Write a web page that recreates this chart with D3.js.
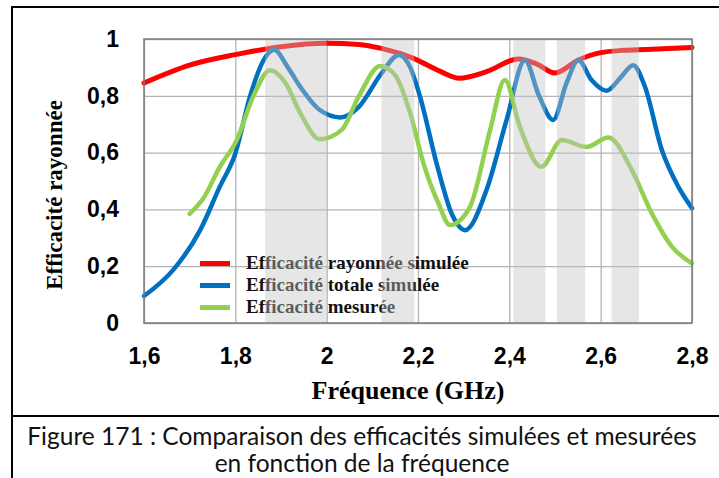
<!DOCTYPE html>
<html lang="fr">
<head>
<meta charset="utf-8">
<title>Efficacité rayonnée</title>
<script src="https://cdn.jsdelivr.net/npm/d3@7"></script>
<style>
  body { margin: 0; background: #fff; }
</style>
</head>
<body>
<script>

// values
var freqRad = [1.6, 1.7, 1.8, 1.9, 2.0, 2.07, 2.12, 2.19, 2.25, 2.29, 2.35, 2.42, 2.46, 2.5, 2.55, 2.6, 2.65, 2.7, 2.8];
var effRad  = [0.845, 0.908, 0.945, 0.973, 0.985, 0.981, 0.967, 0.932, 0.885, 0.862, 0.885, 0.93, 0.912, 0.88, 0.925, 0.952, 0.96, 0.963, 0.97];

var freqTot = [1.6, 1.664, 1.723, 1.766, 1.8, 1.832, 1.86, 1.885, 1.915, 1.942, 1.985, 2.03, 2.07, 2.12, 2.158, 2.183, 2.204, 2.241, 2.275, 2.303, 2.35, 2.394, 2.434, 2.465, 2.496, 2.525, 2.551, 2.58, 2.613, 2.645, 2.671, 2.697, 2.734, 2.77, 2.8];
var effTot  = [0.095, 0.187, 0.327, 0.48, 0.597, 0.797, 0.92, 0.962, 0.9, 0.832, 0.75, 0.724, 0.76, 0.879, 0.944, 0.9, 0.8, 0.56, 0.38, 0.327, 0.468, 0.715, 0.925, 0.8, 0.715, 0.844, 0.925, 0.856, 0.818, 0.867, 0.908, 0.832, 0.609, 0.48, 0.404];

var freqMes = [1.7, 1.73, 1.766, 1.803, 1.839, 1.876, 1.91, 1.942, 1.985, 2.033, 2.07, 2.117, 2.15, 2.183, 2.212, 2.245, 2.27, 2.314, 2.358, 2.39, 2.423, 2.47, 2.515, 2.569, 2.617, 2.668, 2.712, 2.756, 2.8];
var effMes  = [0.384, 0.439, 0.55, 0.644, 0.797, 0.89, 0.845, 0.74, 0.647, 0.68, 0.797, 0.905, 0.873, 0.738, 0.562, 0.42, 0.345, 0.41, 0.68, 0.856, 0.691, 0.55, 0.644, 0.62, 0.653, 0.539, 0.386, 0.269, 0.21];

var bandStart = [1.865, 2.12, 2.409, 2.504, 2.624];
var bandEnd   = [2.0, 2.192, 2.479, 2.566, 2.684];

var xTicks = [1.6, 1.8, 2.0, 2.2, 2.4, 2.6, 2.8];
var yTicks = [0, 0.2, 0.4, 0.6, 0.8, 1];

var seriesNames = ["Efficacité rayonnée simulée", "Efficacité totale simulée", "Efficacité mesurée"];
var seriesColors = ["#ff0000", "#0070c0", "#92d050"];

var W = 719, H = 478;
var plot = {left: 144, right: 692, top: 39, bottom: 323};

var x = d3.scaleLinear().domain([1.6, 2.8]).range([plot.left, plot.right]);
var y = d3.scaleLinear().domain([0, 1]).range([plot.bottom, plot.top]);

var svg = d3.select("body").append("svg")
	.attr("width", W)
	.attr("height", H)
	.style("display", "block");

function comma(d) { return String(d).replace(".", ","); }

// grid + tick labels
var xAxis = d3.axisBottom(x).tickValues(xTicks).tickFormat(comma)
	.tickSizeInner(-(plot.bottom - plot.top)).tickSizeOuter(0).tickPadding(25);
var yAxis = d3.axisLeft(y).tickValues(yTicks).tickFormat(comma)
	.tickSizeInner(-(plot.right - plot.left)).tickSizeOuter(0).tickPadding(25);

var gx = svg.append("g").attr("transform", "translate(0," + plot.bottom + ")").call(xAxis);
var gy = svg.append("g").attr("transform", "translate(" + plot.left + ",0)").call(yAxis);

[gx, gy].forEach(function(g) {
	g.select(".domain").remove();
	g.selectAll(".tick line").attr("stroke", "#b4b4b4").attr("stroke-width", 1.3);
	g.selectAll(".tick text")
		.attr("fill", "#000")
		.style("font-family", "'Liberation Sans', Arial, sans-serif")
		.style("font-weight", "bold")
		.style("font-size", "23px");
});

// curves
var line = d3.line()
	.x(function(d) { return x(d[0]); })
	.y(function(d) { return y(d[1]); })
	.curve(d3.curveMonotoneX);

var series = [
	d3.zip(freqRad, effRad),
	d3.zip(freqTot, effTot),
	d3.zip(freqMes, effMes)
];

svg.append("g").selectAll("path")
	.data(series)
	.enter()
	.append("path")
	.attr("d", line)
	.attr("fill", "none")
	.attr("stroke", function(d, i) { return seriesColors[i]; })
	.attr("stroke-width", function(d, i) { return i == 0 ? 5 : 4.5; })
	.attr("stroke-linecap", "round");

// legend
var legend = svg.append("g");
var legY = [263.5, 285.5, 307.5];
seriesNames.forEach(function(name, i) {
	legend.append("line")
		.attr("x1", 200).attr("x2", 230)
		.attr("y1", legY[i]).attr("y2", legY[i])
		.attr("stroke", seriesColors[i])
		.attr("stroke-width", 5);
	legend.append("text")
		.attr("x", 246)
		.attr("y", legY[i] + 5)
		.text(name)
		.attr("fill", "#111")
		.style("font-family", "'Liberation Serif', 'Times New Roman', serif")
		.style("font-weight", "bold")
		.style("font-size", "19px");
});

// shaded frequency bands, drawn over the curves
svg.append("g").selectAll("rect")
	.data(d3.zip(bandStart, bandEnd))
	.enter()
	.append("rect")
	.attr("x", function(d) { return x(d[0]); })
	.attr("width", function(d) { return x(d[1]) - x(d[0]); })
	.attr("y", plot.top)
	.attr("height", plot.bottom - plot.top)
	.attr("fill", "#c4c4c4")
	.attr("fill-opacity", 0.42);

// plot border
svg.append("rect")
	.attr("x", plot.left).attr("y", plot.top)
	.attr("width", plot.right - plot.left)
	.attr("height", plot.bottom - plot.top)
	.attr("fill", "none")
	.attr("stroke", "#7a7a7a")
	.attr("stroke-width", 1.5);

// axis titles
svg.append("text")
	.attr("x", 408).attr("y", 399)
	.attr("text-anchor", "middle")
	.text("Fréquence (GHz)")
	.style("font-family", "'Liberation Serif', 'Times New Roman', serif")
	.style("font-weight", "bold")
	.style("font-size", "26px");

svg.append("text")
	.attr("transform", "translate(62,195) rotate(-90)")
	.attr("text-anchor", "middle")
	.text("Efficacité rayonnée")
	.style("font-family", "'Liberation Serif', 'Times New Roman', serif")
	.style("font-weight", "bold")
	.style("font-size", "23px");

// figure frame
var frame = svg.append("g").attr("stroke", "#000").attr("stroke-width", 2);
frame.append("line").attr("x1", 12).attr("x2", W).attr("y1", 7).attr("y2", 7);
frame.append("line").attr("x1", 12).attr("x2", 12).attr("y1", 6).attr("y2", H);
frame.append("line").attr("x1", 12).attr("x2", W).attr("y1", 416).attr("y2", 416);

// caption
var caption = ["Figure 171 : Comparaison des efficacités simulées et mesurées", "en fonction de la fréquence"];
svg.append("g").selectAll("text")
	.data(caption)
	.enter()
	.append("text")
	.attr("x", 362)
	.attr("y", function(d, i) { return 445 + i * 27; })
	.attr("text-anchor", "middle")
	.text(function(d) { return d; })
	.style("font-family", "Lato, 'Open Sans', sans-serif")
	.style("font-size", "24.5px")
	.attr("fill", "#111");

</script>
</body>
</html>
